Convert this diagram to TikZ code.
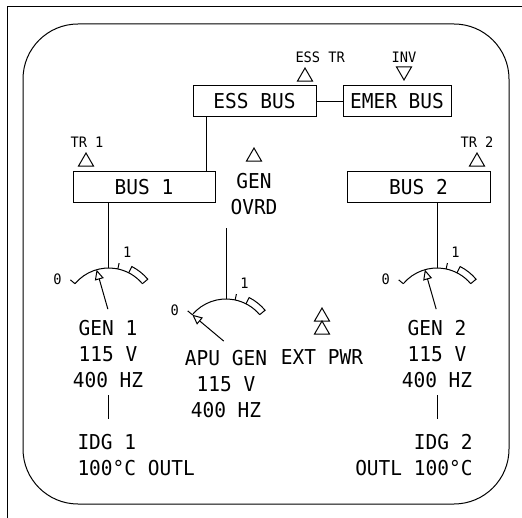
\documentclass[tikz,border=0pt]{standalone}
\usepackage{fontspec}
\usepackage{tikz}
\usetikzlibrary{arrows.meta}
\usetikzlibrary{shapes.geometric}
\newfontfamily\panelfont[FakeStretch=0.95]{DejaVu Sans Mono}
\newcommand\bigface{\panelfont\fontsize{20.5}{26}\selectfont}
\newcommand\smallface{\panelfont\fontsize{14.4}{16}\selectfont}
\tikzset{
  txt/.style={font=\bigface,inner sep=0pt,align=center},
  tag/.style={font=\smallface,inner sep=0pt},
  busbox/.style={draw,font=\bigface,inner sep=0pt,minimum height=31pt},
  tri/.style={draw,regular polygon,regular polygon sides=3,minimum size=17.3pt,inner sep=0pt,outer sep=0pt},
  invtri/.style={tri,shape border rotate=180},
  gauge/.pic={
    \draw (140:44pt) arc[start angle=140,end angle=40,radius=44pt];
    \draw (140:44pt) -- (140:50pt) (78:44pt) -- (78:50pt);
    \draw (40:44pt) -- (40:51pt) arc[start angle=40,end angle=63,radius=51pt] -- (63:44pt);
    \node[tag] at (147:61pt) {0};
    \node[tag] at (73:63pt) {1};
    \draw[-{Triangle[open,length=10pt,width=9pt]}] (#1:3pt) -- (#1:44pt);
    \coordinate (-top) at (90:44pt);
  }
}
\begin{document}
\begin{tikzpicture}[x=1pt,y=1pt,line width=1pt]
  \useasboundingbox (0,0) rectangle (522,-518);
  \draw (522,-7) -- (7,-7) -- (7,-518);
  \draw[rounded corners=55pt] (23,-24) rectangle (509,-504);

  \node[busbox,minimum width=123pt] (essbus) at (254.5,-101.5) {ESS BUS};
  \node[busbox,minimum width=108pt] (emerbus) at (397,-101.5) {EMER BUS};
  \node[busbox,minimum width=142pt] (bus1) at (144,-187.5) {BUS 1};
  \node[busbox,minimum width=143pt] (bus2) at (418.5,-187.5) {BUS 2};

  \node[tri] (esstri) at (305,-76.7) {};
  \node[tag,anchor=west] (esstr) at (295,-57) {ESS TR};
  \node[invtri] (invtri) at (404,-71.3) {};
  \node[tag] (inv) at (404,-57) {INV};
  \node[tri] (tr1tri) at (86,-161.7) {};
  \node[tag] (tr1) at (87,-142) {TR 1};
  \node[tri] (tr2tri) at (477,-161.7) {};
  \node[tag] (tr2) at (477,-142) {TR 2};
  \node[tri] (ovrdtri) at (254,-156.7) {};
  \node[txt,anchor=north] (genovrd) at (254,-172.5) {GEN\\OVRD};

  \draw (essbus) -- (emerbus);
  \draw ([xshift=14pt]essbus.south west) -- ([xshift=14pt]essbus.south west |- bus1.north);

  \pic (g1) at (108.7,-312) {gauge=106};
  \pic (apu) at (226,-343) {gauge=140};
  \pic (g2) at (437,-312) {gauge=106};
  \coordinate (ovrdend) at (225,-228);
  \draw (g1-top) -- (g1-top |- bus1.south);
  \draw (g2-top) -- (g2-top |- bus2.south);
  \draw (apu-top) -- (apu-top |- ovrdend);

  \node[txt,anchor=north] (gen1) at (108,-319.5) {GEN 1\\115 V\\400 HZ};
  \node[txt,anchor=north] (apugen) at (226,-349.5) {APU GEN\\115 V\\400 HZ};
  \node[txt] (extpwr) at (322,-357) {EXT PWR};
  \node[tri] (exttri1) at (322,-316.7) {};
  \node[tri] (exttri2) at (322,-329.7) {};
  \node[txt,anchor=north] (gen2) at (437,-319.5) {GEN 2\\115 V\\400 HZ};
  \node[txt,align=left,anchor=north west] (idg1) at (77,-433.5) {IDG 1\\100°C OUTL};
  \node[txt,align=right,anchor=north east] (idg2) at (473,-433.5) {IDG 2\\OUTL 100°C};
  \draw[shorten <=7pt,shorten >=15pt] (gen1.south) -- (gen1.south |- idg1.north);
  \draw[shorten <=7pt,shorten >=15pt] (gen2.south) -- (gen2.south |- idg2.north);
\end{tikzpicture}
\end{document}
